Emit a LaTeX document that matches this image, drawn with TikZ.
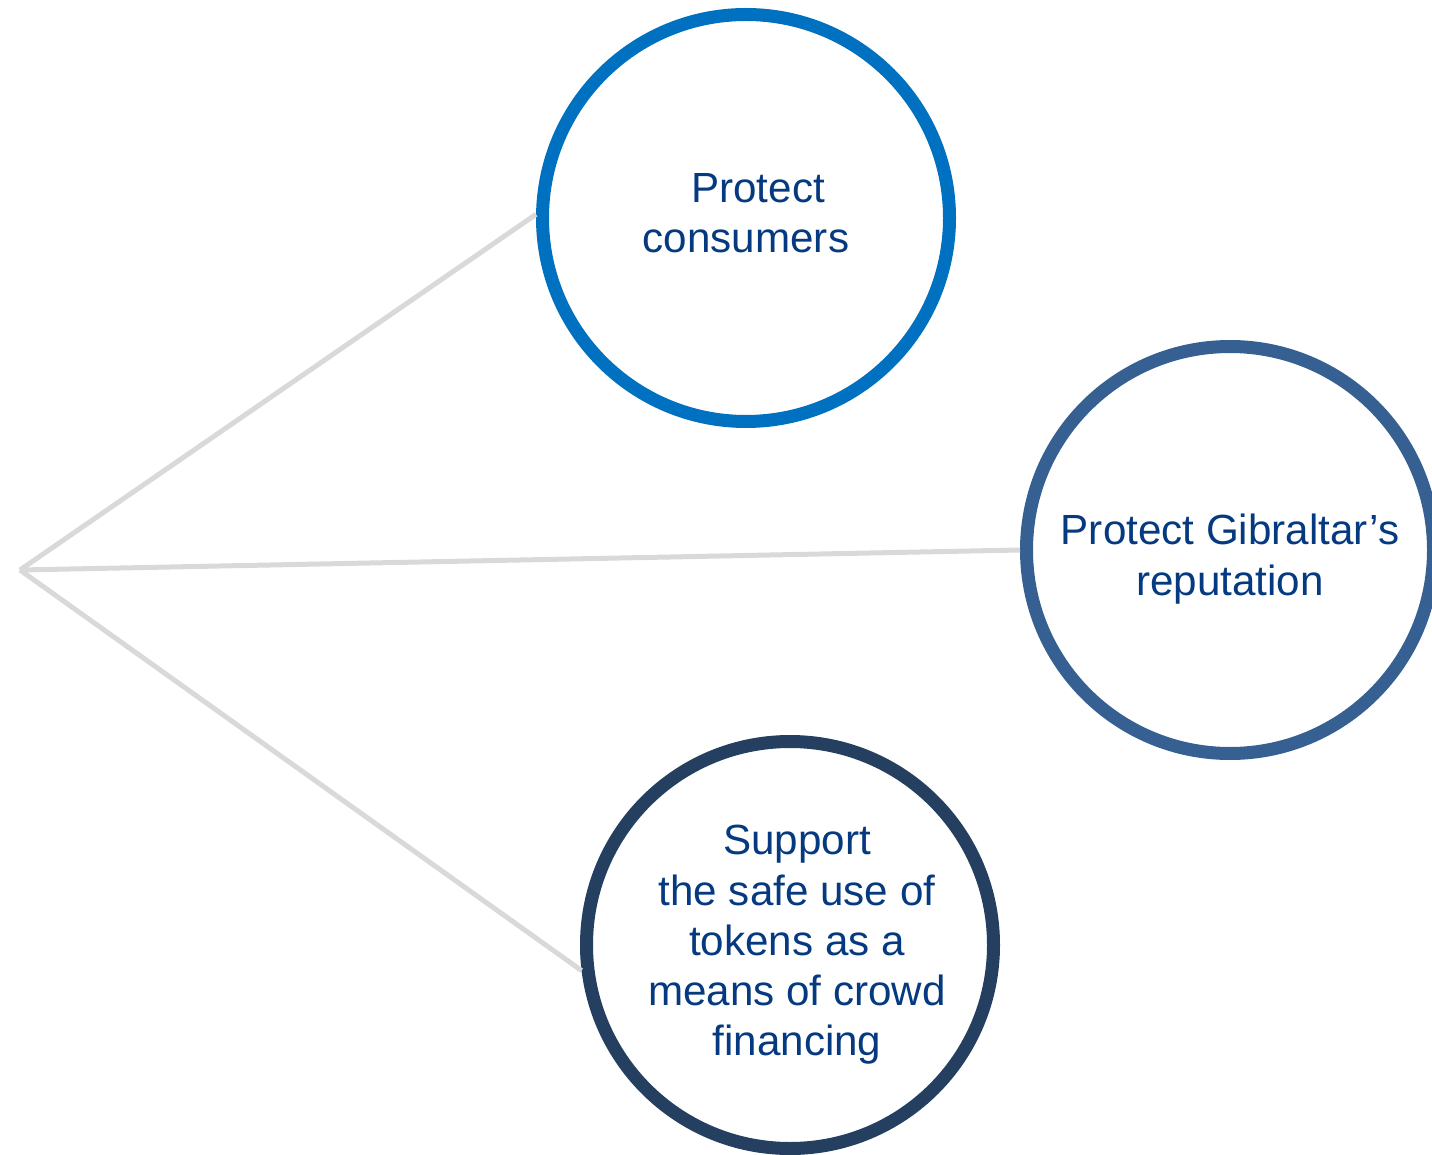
\documentclass[tikz,border=0pt]{standalone}
\usepackage{fontspec}
\setmainfont{Liberation Sans}
\definecolor{ringA}{HTML}{0070C0}
\definecolor{ringB}{HTML}{376092}
\definecolor{ringC}{HTML}{243F60}
\definecolor{goaltext}{HTML}{063A80}
\definecolor{spoke}{HTML}{D9D9D9}
\tikzset{
  goal/.style={circle, draw=#1, line width=0.13cm, fill=white,
    minimum size=4.07cm, inner sep=0pt},
  goaltxt/.style={align=center, inner sep=0pt, text=goaltext,
    font=\fontsize{12}{14.3}\selectfont},
  spokeline/.style={draw=spoke, line width=0.05cm}
}
\begin{document}
\begin{tikzpicture}
  % fixed frame, 1cm = 100px
  \useasboundingbox (0,0) rectangle (14.32,11.54);

  % hub point on the left
  \coordinate (hub) at (0.20,5.84);

  % the three aims
  \node[goal=ringA] (consumers)  at (7.46,9.36) {};
  \node[goal=ringB] (reputation) at (12.30,6.04) {};
  \node[goal=ringC] (tokens)     at (7.90,2.09) {};

  \node[goaltxt] (consumersTxt) at ([yshift=0.05cm]consumers.center)
    {\hspace{0.24cm}Protect\\consumers};
  \node[goaltxt] (reputationTxt) at ([yshift=-0.09cm]reputation.center)
    {Protect Gibraltar’s\\reputation};
  \node[goaltxt] (tokensTxt) at ([xshift=0.07cm]tokens.center)
    {Support\\the safe use of\\tokens as a\\means of crowd\\financing};

  % spokes from the hub
  \draw[spokeline] (hub) -- (consumers.179);
  \draw[spokeline] (hub) -- (reputation.west);
  \draw[spokeline] (hub) -- (tokens.187);
\end{tikzpicture}
\end{document}
